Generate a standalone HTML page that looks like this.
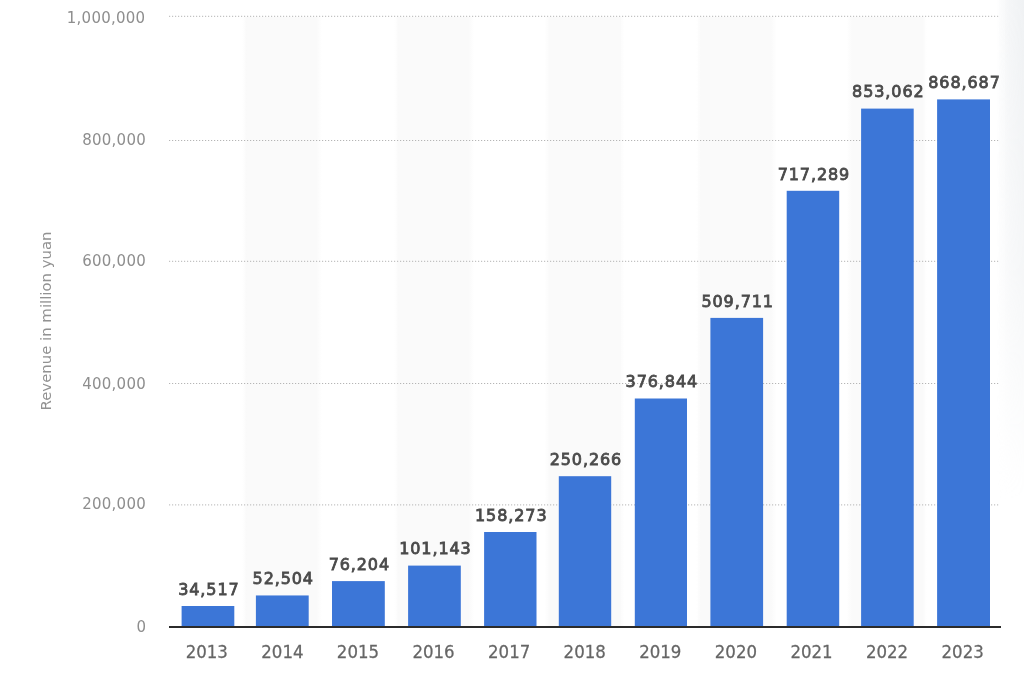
<!DOCTYPE html>
<html><head><meta charset="utf-8"><title>Revenue in million yuan</title>
<style>
html,body{margin:0;padding:0;background:#fff;width:1024px;height:673px;overflow:hidden}
svg{display:block;will-change:transform;filter:blur(0.3px)}
.yl{font-family:"DejaVu Sans",sans-serif;font-size:15px;letter-spacing:0.25px;fill:#8e8e8e;text-anchor:end}
.xl{font-family:"DejaVu Sans",sans-serif;font-size:16.6px;fill:#666;stroke:#666;stroke-width:0.25px;text-anchor:middle}
.vl{font-family:"DejaVu Sans",sans-serif;font-size:16px;letter-spacing:0.9px;fill:#4a4a4a;stroke:#4a4a4a;stroke-width:0.8px;text-anchor:middle}
.tt{font-family:"DejaVu Sans",sans-serif;font-size:14.9px;fill:#929292;text-anchor:middle}
</style></head><body>
<svg width="1024" height="673" viewBox="0 0 1024 673">

<defs><linearGradient id="bandg" x1="0" y1="0" x2="1" y2="0"><stop offset="0" stop-color="#fafafa" stop-opacity="0"/><stop offset="0.06" stop-color="#fafafa" stop-opacity="1"/><stop offset="0.94" stop-color="#fafafa" stop-opacity="1"/><stop offset="1" stop-color="#fafafa" stop-opacity="0"/></linearGradient></defs>
<rect x="241.80" y="17" width="80" height="609" fill="url(#bandg)"/>
<rect x="393.95" y="17" width="80" height="609" fill="url(#bandg)"/>
<rect x="544.50" y="17" width="80" height="609" fill="url(#bandg)"/>
<rect x="696.25" y="17" width="80" height="609" fill="url(#bandg)"/>
<rect x="846.90" y="17" width="80" height="609" fill="url(#bandg)"/>
<line x1="169" y1="16.3" x2="1000" y2="16.3" stroke="#b5b5b5" stroke-width="1" stroke-dasharray="1.2,1.8"/>
<text class="yl" x="145.4" y="22.5">1,000,000</text>
<line x1="169" y1="140.5" x2="1000" y2="140.5" stroke="#b5b5b5" stroke-width="1" stroke-dasharray="1.2,1.8"/>
<text class="yl" x="146" y="145.4">800,000</text>
<line x1="169" y1="261.3" x2="1000" y2="261.3" stroke="#b5b5b5" stroke-width="1" stroke-dasharray="1.2,1.8"/>
<text class="yl" x="146" y="266.2">600,000</text>
<line x1="169" y1="383.5" x2="1000" y2="383.5" stroke="#b5b5b5" stroke-width="1" stroke-dasharray="1.2,1.8"/>
<text class="yl" x="146" y="388.8">400,000</text>
<line x1="169" y1="504.9" x2="1000" y2="504.9" stroke="#b5b5b5" stroke-width="1" stroke-dasharray="1.2,1.8"/>
<text class="yl" x="146" y="509.4">200,000</text>
<text class="yl" x="146.2" y="631.9">0</text>
<rect x="181.60" y="606.00" width="52.70" height="21.50" fill="#3c76d7"/>
<text class="vl" x="208.90" y="594.70">34,517</text>
<text class="xl" transform="translate(206.80,657.55) scale(1,1.02)">2013</text>
<rect x="255.90" y="595.45" width="52.80" height="32.05" fill="#3c76d7"/>
<text class="vl" x="283.25" y="584.15">52,504</text>
<text class="xl" transform="translate(282.38,657.55) scale(1,1.02)">2014</text>
<rect x="332.00" y="581.10" width="52.80" height="46.40" fill="#3c76d7"/>
<text class="vl" x="359.35" y="569.80">76,204</text>
<text class="xl" transform="translate(357.97,657.55) scale(1,1.02)">2015</text>
<rect x="408.10" y="565.60" width="52.70" height="61.90" fill="#3c76d7"/>
<text class="vl" x="435.40" y="554.30">101,143</text>
<text class="xl" transform="translate(433.56,657.55) scale(1,1.02)">2016</text>
<rect x="484.10" y="532.00" width="52.40" height="95.50" fill="#3c76d7"/>
<text class="vl" x="511.25" y="520.70">158,273</text>
<text class="xl" transform="translate(509.14,657.55) scale(1,1.02)">2017</text>
<rect x="558.80" y="476.20" width="52.40" height="151.30" fill="#3c76d7"/>
<text class="vl" x="585.95" y="464.90">250,266</text>
<text class="xl" transform="translate(584.72,657.55) scale(1,1.02)">2018</text>
<rect x="634.80" y="398.50" width="52.20" height="229.00" fill="#3c76d7"/>
<text class="vl" x="661.85" y="387.20">376,844</text>
<text class="xl" transform="translate(660.31,657.55) scale(1,1.02)">2019</text>
<rect x="710.40" y="317.90" width="52.70" height="309.60" fill="#3c76d7"/>
<text class="vl" x="737.70" y="306.60">509,711</text>
<text class="xl" transform="translate(735.89,657.55) scale(1,1.02)">2020</text>
<rect x="786.70" y="190.80" width="52.50" height="436.70" fill="#3c76d7"/>
<text class="vl" x="813.90" y="179.50">717,289</text>
<text class="xl" transform="translate(811.48,657.55) scale(1,1.02)">2021</text>
<rect x="861.10" y="108.60" width="52.60" height="518.90" fill="#3c76d7"/>
<text class="vl" x="888.35" y="97.30">853,062</text>
<text class="xl" transform="translate(887.07,657.55) scale(1,1.02)">2022</text>
<rect x="937.10" y="99.40" width="52.90" height="528.10" fill="#3c76d7"/>
<text class="vl" x="964.50" y="88.10">868,687</text>
<text class="xl" transform="translate(962.65,657.55) scale(1,1.02)">2023</text>
<defs><linearGradient id="rg" x1="0" y1="0" x2="1" y2="0"><stop offset="0" stop-color="#f0f2f4" stop-opacity="0"/><stop offset="0.45" stop-color="#f0f2f4" stop-opacity="0.7"/><stop offset="1" stop-color="#f0f2f4" stop-opacity="1"/></linearGradient><linearGradient id="vg" x1="0" y1="0" x2="0" y2="1"><stop offset="0" stop-color="#fff" stop-opacity="1"/><stop offset="0.55" stop-color="#fff" stop-opacity="0.6"/><stop offset="1" stop-color="#fff" stop-opacity="0"/></linearGradient><mask id="vm"><rect x="990" y="0" width="34" height="500" fill="url(#vg)"/></mask></defs>
<rect x="996" y="0" width="28" height="500" fill="url(#rg)" mask="url(#vm)"/>
<rect x="169" y="626" width="832" height="2" fill="#2b2b2b"/>
<text class="tt" transform="translate(51.2,321) rotate(-90)">Revenue in million yuan</text>
</svg>
</body></html>
